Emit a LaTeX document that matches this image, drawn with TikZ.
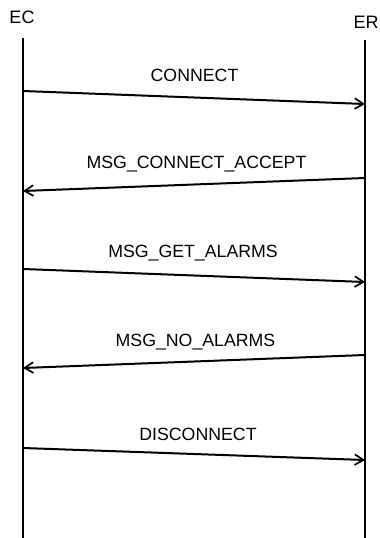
\documentclass[tikz,border=0pt]{standalone}
\usepackage{fontspec}
\setmainfont{Liberation Sans}
\usetikzlibrary{arrows.meta}
\begin{document}
\begin{tikzpicture}[x=0.75pt,y=-0.75pt,
  lifeline/.style={line width=1.7pt},
  msg/.style={line width=1.5pt,-{Straight Barb[length=6.5pt,width=8pt,line width=1.3pt]}},
  actor/.style={font=\fontsize{13.5pt}{15pt}\selectfont,inner sep=0pt},
  msglabel/.style={font=\fontsize{13.3pt}{15pt}\selectfont,inner sep=0pt}]
\useasboundingbox (0,0) rectangle (379,538);
% participants
\node[actor] (ec) at (22,17) {EC};
\node[actor] (er) at (366,22) {ER};
% lifelines
\coordinate (ectop) at (23,38);
\coordinate (ecbot) at (23,538);
\coordinate (ertop) at (365,40);
\coordinate (erbot) at (365,538);
\draw[lifeline] (ectop) -- (ecbot);
\draw[lifeline] (ertop) -- (erbot);
% message end points
\coordinate (a1) at (23,91);   \coordinate (b1) at (365,104);
\coordinate (b2) at (365,178); \coordinate (a2) at (23,191);
\coordinate (a3) at (23,269);  \coordinate (b3) at (365,282);
\coordinate (b4) at (365,355); \coordinate (a4) at (23,368);
\coordinate (a5) at (23,448);  \coordinate (b5) at (365,460);
% messages
\draw[msg] (a1) -- (b1);
\draw[msg] (b2) -- (a2);
\draw[msg] (a3) -- (b3);
\draw[msg] (b4) -- (a4);
\draw[msg] (a5) -- (b5);
% labels
\node[msglabel] (l1) at (194.5,75) {CONNECT};
\node[msglabel] (l2) at (196.5,164) {MSG\_CONNECT\_ACCEPT};
\node[msglabel] (l3) at (193,253) {MSG\_GET\_ALARMS};
\node[msglabel] (l4) at (195.5,342) {MSG\_NO\_ALARMS};
\node[msglabel] (l5) at (198,434) {DISCONNECT};
\end{tikzpicture}
\end{document}
